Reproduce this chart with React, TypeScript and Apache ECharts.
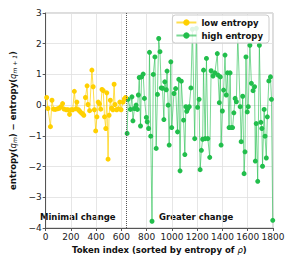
import React, { useEffect, useRef } from "react";
import * as echarts from "echarts";

const lowX = [8, 18, 38, 50, 63, 76, 93, 108, 120, 134, 146, 164, 177, 189, 202, 214, 227, 240, 247, 260, 270, 282, 292, 302, 315, 328, 335, 348, 366, 376, 386, 396, 406, 416, 426, 436, 446, 456, 466, 476, 484, 494, 502, 512, 522, 532, 542, 549, 562, 575, 587, 597, 613, 623, 633];
const lowY = [0.25, -0.11, -0.7, 0.16, -0.13, -0.14, -0.12, -0.1, -0.05, 0.05, -0.13, -0.15, -0.15, -0.3, -0.15, -0.15, 0.45, -0.12, 0.1, -0.15, -0.2, -0.25, -0.28, -0.33, 0.25, 0.63, 0.02, -0.18, 1.14, 0.6, -0.15, -0.84, -0.38, 0.1, 0.04, -0.13, 0.51, 0.47, -0.38, -0.76, 0.4, -1.76, -0.33, 0.16, -0.1, -0.15, 0.68, 0.02, -0.15, -0.12, 0.1, -0.15, 0.1, 0.2, 0.25];

const highX = [645, 653, 671, 683, 691, 703, 716, 726, 734, 741, 751, 759, 772, 782, 797, 804, 815, 822, 832, 842, 852, 865, 875, 885, 895, 905, 915, 925, 936, 943, 955, 961, 970, 978, 991, 998, 1016, 1029, 1044, 1054, 1064, 1074, 1092, 1102, 1110, 1117, 1125, 1137, 1150, 1162, 1180, 1193, 1203, 1215, 1223, 1233, 1243, 1250, 1263, 1273, 1284, 1299, 1310, 1325, 1340, 1359, 1365, 1375, 1383, 1389, 1399, 1409, 1420, 1430, 1440, 1452, 1460, 1470, 1480, 1490, 1500, 1510, 1521, 1540, 1548, 1560, 1571, 1578, 1586, 1596, 1604, 1617, 1629, 1642, 1654, 1660, 1667, 1679, 1692, 1704, 1712, 1717, 1730, 1737, 1747, 1755, 1767, 1780, 1788, 1798];
const highY = [-0.92, 0.19, -0.14, 0.27, -0.51, -0.11, 0.0, -0.14, 0.33, 0.9, -0.68, 0.92, 1.01, 0.22, -0.4, -0.54, -0.76, 1.72, -1.01, -3.78, 1.0, 1.57, -1.41, 0.35, 2.17, 1.74, 0.56, 0.55, -0.47, 0.76, 0.5, 1.11, 0.0, -1.3, 1.41, -0.73, 0.38, 0.54, -0.87, 0.84, -2.14, 0.78, -0.49, -1.61, -0.05, -0.2, -0.12, -0.05, 0.56, 2.47, -1.09, 2.5, -0.07, 0.19, -2.1, -1.47, -1.11, 1.14, -1.09, 1.52, -1.09, -1.7, 1.12, 0.95, 1.05, 1.68, 0.98, 0.08, 0.92, -1.3, -0.19, 0.49, 1.63, 0.33, 1.05, -0.73, 1.05, -0.73, -0.73, -0.25, 0.22, 0.11, 2.28, -0.05, -1.19, 0.29, -2.23, -1.52, 1.57, -0.22, -0.05, 1.95, 0.71, 0.47, 0.6, -1.82, -0.6, -2.48, 1.95, -0.56, -0.76, -1.99, -0.14, -1.01, -1.72, -0.38, 0.79, 0.92, 0.19, -3.75];

const xTicks = [0, 200, 400, 600, 800, 1000, 1200, 1400, 1600, 1800];
const yTicks = [-4, -3, -2, -1, 0, 1, 2, 3];
const boundaryX = 635;
const seriesNames = ["low entropy", "high entropy"];

const FONT = "DejaVu Sans";
const NAME_SIZE = 8.5;

export default function App() {
  const ref = useRef<HTMLDivElement>(null);
  useEffect(() => {
    if (!ref.current) return;
    const chart = echarts.init(ref.current, null, { renderer: "svg" });
    const fmtNum = (v: number) => (v < 0 ? "\u2212" + Math.abs(v) : String(v));
    chart.setOption({
      animation: false,
      backgroundColor: "#fff",
      grid: {
        left: 35,
        top: 13,
        width: 238,
        height: 215,
        show: true,
        borderColor: "#bbb",
        borderWidth: 1,
      },
      legend: {
        right: 23,
        top: 15,
        orient: "vertical",
        itemWidth: 20,
        itemHeight: 8,
        itemGap: 4,
        padding: [3, 6, 3, 3],
        backgroundColor: "rgba(255,255,255,0.85)",
        borderColor: "#ccc",
        borderWidth: 1,
        borderRadius: 3,
        textStyle: { fontFamily: FONT, fontWeight: "bold", fontSize: NAME_SIZE, color: "#111" },
        data: seriesNames,
      },
      xAxis: {
        type: "value",
        min: 0,
        max: 1800,
        interval: 200,
        name: "{b|Token index (sorted by entropy of }{i|\u03c1}{b|)}",
        nameLocation: "middle",
        nameGap: 15,
        nameTextStyle: {
          align: "center",
          rich: {
            b: { fontFamily: FONT, fontWeight: "bold", fontSize: NAME_SIZE, color: "#111" },
            i: { fontFamily: FONT, fontStyle: "italic", fontSize: NAME_SIZE, color: "#111" },
          },
        },
        axisLine: { show: true, onZero: false, lineStyle: { color: "#555", width: 1 } },
        axisTick: { show: true, length: 3, lineStyle: { color: "#555" } },
        axisLabel: {
          fontFamily: FONT,
          fontSize: 9,
          color: "#222",
          margin: 4,
          hideOverlap: false,
          formatter: (v: number) => (xTicks.includes(v) ? String(v) : ""),
        },
        splitLine: { show: true, lineStyle: { color: "#e0e0e0", width: 0.8 } },
      },
      yAxis: {
        type: "value",
        min: -4,
        max: 3,
        interval: 1,
        name:
          "{b|entropy(}{i|q}{s|m}{b|) \u2212 entropy(}{i|q}{s|m + 1}{b|)}",
        nameLocation: "middle",
        nameRotate: 90,
        nameGap: 18,
        nameTextStyle: {
          align: "center",
          rich: {
            b: { fontFamily: FONT, fontWeight: "bold", fontSize: NAME_SIZE, color: "#111" },
            i: { fontFamily: FONT, fontStyle: "italic", fontSize: NAME_SIZE, color: "#111" },
            s: { fontFamily: FONT, fontStyle: "italic", fontSize: 6, color: "#111", padding: [4, 0, 0, 0] },
          },
        },
        axisLine: { show: true, onZero: false, lineStyle: { color: "#555", width: 1 } },
        axisTick: { show: true, length: 3, lineStyle: { color: "#555" } },
        axisLabel: {
          fontFamily: FONT,
          fontSize: 9,
          color: "#222",
          margin: 4,
          formatter: (v: number) => (yTicks.includes(v) ? fmtNum(v) : ""),
        },
        splitLine: { show: true, lineStyle: { color: "#e0e0e0", width: 0.8 } },
      },
      series: [
        {
          name: seriesNames[0],
          type: "line",
          data: lowX.map((x, i) => [x, lowY[i]]),
          symbol: "circle",
          symbolSize: 5,
          itemStyle: { color: "#FFD000" },
          lineStyle: { color: "#FFD000", width: 1, opacity: 0.7 },
          z: 3,
          markLine: {
            silent: true,
            symbol: "none",
            label: { show: false },
            lineStyle: { color: "#555", type: "dotted", width: 1 },
            data: [{ xAxis: boundaryX }],
          },
        },
        {
          name: seriesNames[1],
          type: "line",
          data: highX.map((x, i) => [x, highY[i]]),
          symbol: "circle",
          symbolSize: 5,
          itemStyle: { color: "#22BE4C" },
          lineStyle: { color: "#22BE4C", width: 1, opacity: 0.6 },
          z: 2,
        },
      ],
      graphic: [
        {
          type: "text",
          left: 40,
          top: 212,
          style: { text: "Minimal change", fontFamily: FONT, fontWeight: "bold", fontSize: NAME_SIZE, fill: "#111" },
        },
        {
          type: "text",
          left: 159,
          top: 212,
          style: { text: "Greater change", fontFamily: FONT, fontWeight: "bold", fontSize: NAME_SIZE, fill: "#111" },
        },
      ],
    });
    return () => chart.dispose();
  }, []);
  return (
    <div
      ref={ref}
      style={{ position: "fixed", left: 0, top: 0, width: 292, height: 263 }}
    />
  );
}
